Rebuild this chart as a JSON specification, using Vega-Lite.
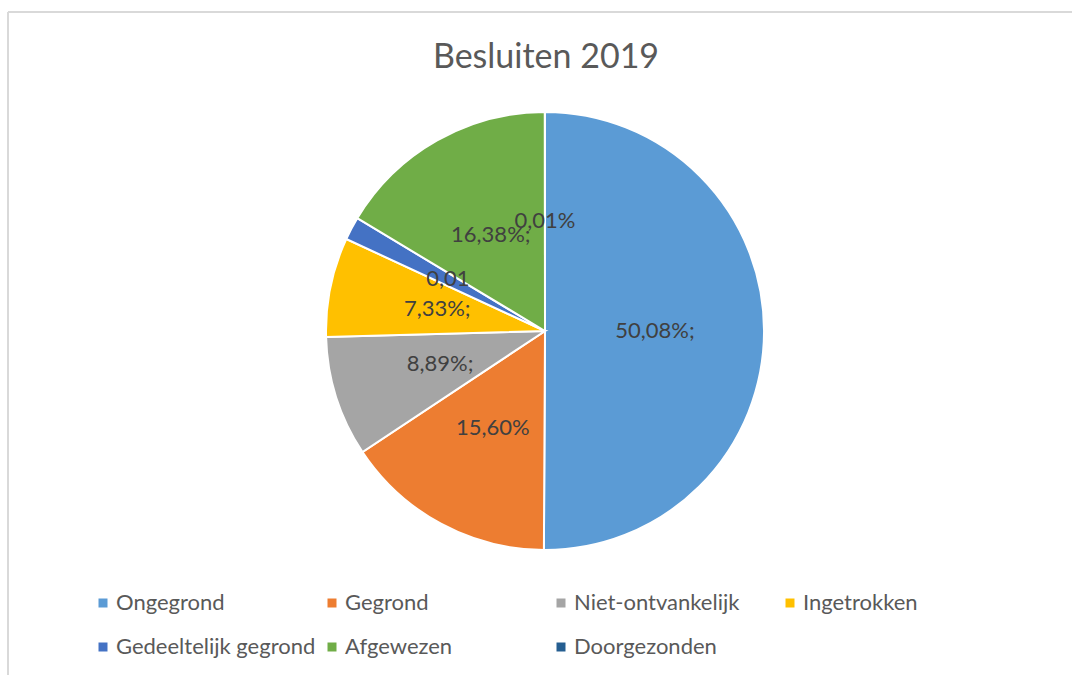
{
  "$schema": "https://vega.github.io/schema/vega-lite/v6.json",
  "width": 1064,
  "height": 663,
  "autosize": {"type": "none"},
  "padding": {"left": 8, "top": 12, "right": 0, "bottom": 0},
  "background": "white",
  "view": {"stroke": "#D9D9D9", "strokeWidth": 2, "fill": "white", "strokeDash": [1064, 1727, 663, 0]},
  "title": {
    "text": "Besluiten 2019",
    "font": "Lato",
    "fontSize": 34,
    "fontWeight": "normal",
    "color": "#595959",
    "anchor": "middle",
    "frame": "group",
    "offset": -63,
    "dx": 6
  },
  "data": {
    "values": [
      {"categorie": "Ongegrond", "aandeel": 50.08, "label": "50,08%;", "volgorde": 1},
      {"categorie": "Gegrond", "aandeel": 15.60, "label": "15,60%", "volgorde": 2},
      {"categorie": "Niet-ontvankelijk", "aandeel": 8.89, "label": "8,89%;", "volgorde": 3},
      {"categorie": "Ingetrokken", "aandeel": 7.33, "label": "7,33%;", "volgorde": 4},
      {"categorie": "Gedeeltelijk gegrond", "aandeel": 1.71, "label": "0,01", "volgorde": 5},
      {"categorie": "Afgewezen", "aandeel": 16.38, "label": "16,38%;", "volgorde": 6},
      {"categorie": "Doorgezonden", "aandeel": 0.01, "label": "0,01%", "volgorde": 7}
    ]
  },
  "layer": [
    {
      "mark": {"type": "arc", "outerRadius": 219, "stroke": "white", "strokeWidth": 2, "xOffset": 5, "yOffset": -12.5},
      "encoding": {
        "theta": {"field": "aandeel", "type": "quantitative", "stack": true},
        "order": {"field": "volgorde", "type": "quantitative"},
        "color": {
          "field": "categorie",
          "type": "nominal",
          "sort": null,
          "scale": {
            "domain": ["Ongegrond", "Gegrond", "Niet-ontvankelijk", "Ingetrokken", "Gedeeltelijk gegrond", "Afgewezen", "Doorgezonden"],
            "range": ["#5B9BD5", "#ED7D31", "#A5A5A5", "#FFC000", "#4472C4", "#70AD47", "#255E91"]
          },
          "legend": {
            "orient": "none",
            "legendX": 84,
            "legendY": 580,
            "direction": "horizontal",
            "columns": 4,
            "title": null,
            "padding": 0,
            "symbolType": "square",
            "symbolSize": 81,
            "symbolStrokeWidth": 0,
            "labelFont": "Lato",
            "labelFontSize": 22,
            "labelColor": "#595959",
            "labelOffset": 2,
            "labelLimit": 400,
            "gridAlign": "all",
            "columnPadding": 5,
            "rowPadding": 22
          }
        }
      }
    },
    {
      "mark": {"type": "text", "radius": 110, "font": "Lato", "fontSize": 22, "fill": "#404040", "xOffset": 5, "yOffset": -12.5},
      "encoding": {
        "theta": {"field": "aandeel", "type": "quantitative", "stack": true},
        "order": {"field": "volgorde", "type": "quantitative"},
        "text": {"field": "label", "type": "nominal"}
      }
    }
  ]
}
